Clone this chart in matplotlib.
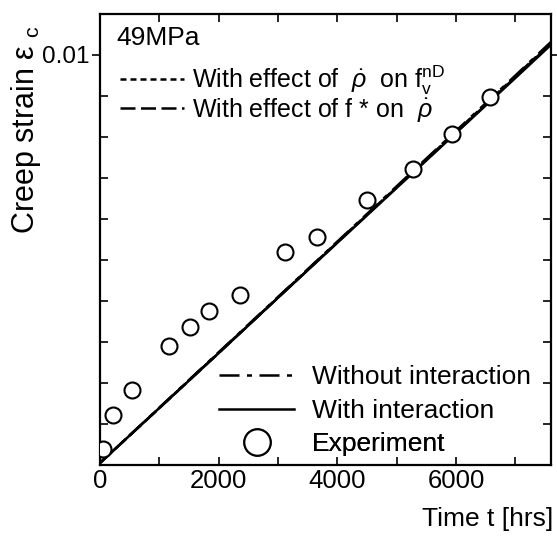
import matplotlib
matplotlib.use("Agg")
import matplotlib.pyplot as plt
from matplotlib.lines import Line2D
from matplotlib.ticker import MultipleLocator, FixedLocator

plt.rcParams["font.family"] = ["Liberation Sans", "DejaVu Sans"]
plt.rcParams["mathtext.fontset"] = "custom"
plt.rcParams["mathtext.rm"] = "Liberation Sans"
plt.rcParams["mathtext.it"] = "Liberation Sans:italic"
plt.rcParams["mathtext.bf"] = "Liberation Sans:bold"

# experiment points (hrs, strain)
exp_time = [50, 220, 540, 1160, 1515, 1835, 2355, 3115, 3655, 4495, 5270, 5925, 6580]
exp_strain = [0.00039, 0.00122, 0.00183, 0.00290, 0.00337, 0.00376, 0.00415,
              0.00520, 0.00556, 0.00646, 0.00722, 0.00807, 0.00898]

# model curves
model_time = [0, 1000, 2000, 3000, 4000, 5000, 6000, 7000, 7600]
with_interaction = [0.00005, 0.00139, 0.00273, 0.00408, 0.00542, 0.00676, 0.00810, 0.00944, 0.01025]
without_interaction = [0.00005, 0.00140, 0.00275, 0.00410, 0.00545, 0.00680, 0.00815, 0.00950, 0.01032]
effect_p_on_fv = [0.00005, 0.00139, 0.00274, 0.00409, 0.00544, 0.00678, 0.00813, 0.00948, 0.01030]
effect_f_on_p = [0.00005, 0.00139, 0.00273, 0.00408, 0.00543, 0.00677, 0.00811, 0.00946, 0.01028]

fs = 19
fig = plt.figure(figsize=(5.57, 5.38), dpi=100)
ax = fig.add_axes([100 / 557, 73 / 538, 451 / 557, 451 / 538])

dotted = (0, (2.4, 1.6))
dashed = (0, (6, 2.2))
dashdot = (0, (8, 3, 2, 3))
lw = 1.8

ax.plot(model_time, effect_p_on_fv, color="black", lw=lw, ls=dotted)
ax.plot(model_time, effect_f_on_p, color="black", lw=lw, ls=dashed)
ax.plot(model_time, without_interaction, color="black", lw=lw, ls=dashdot)
ax.plot(model_time, with_interaction, color="black", lw=lw, ls="-")
ax.plot(exp_time, exp_strain, ls="none", marker="o", ms=11.5, mfc="white",
        mec="black", mew=1.5, zorder=5)

ax.set_xlim(0, 7600)
ax.set_ylim(0, 0.011)

ax.xaxis.set_major_locator(FixedLocator([0, 2000, 4000, 6000]))
ax.xaxis.set_minor_locator(MultipleLocator(1000))
ax.set_xticklabels(["0", "2000", "4000", "6000"])
ax.yaxis.set_major_locator(FixedLocator([0.01]))
ax.yaxis.set_minor_locator(FixedLocator([i * 0.001 for i in range(1, 10)]))
ax.set_yticklabels(["0.01"])

ax.tick_params(which="both", direction="in", top=True, right=True, width=1.2)
ax.tick_params(axis="x", which="both", length=6, pad=3, labelsize=18.5)
ax.tick_params(axis="y", which="minor", length=6)
ax.tick_params(axis="y", which="major", direction="out", length=6, pad=1.5,
               labelsize=17.5)
for s in ax.spines.values():
    s.set_linewidth(1.6)

ax.set_ylabel("Creep strain ε $_{\\mathrm{c}}$", fontsize=22)
ax.yaxis.set_label_coords(-0.127, 0.743)
fig.text(553 / 557, 1 - 519 / 538, "Time t [hrs]", fontsize=fs, ha="right", va="center")

ax.text(0.037, 0.946, "49MPa", transform=ax.transAxes, fontsize=fs, va="center", ha="left")


def add_key(handle, label, x, y, hlen, pad, size=fs):
    leg = ax.legend([handle], [label], loc="center left", bbox_to_anchor=(x, y),
                    frameon=False, fontsize=size, handlelength=hlen, handletextpad=pad,
                    borderpad=0, borderaxespad=0)
    ax.add_artist(leg)


add_key(Line2D([], [], color="black", lw=lw, ls=dotted),
        "With effect of  $\\dot{\\rho}$  on f$_{\\mathrm{v}}^{\\mathrm{nD}}$",
        0.044, 0.853, 2.55, 0.35, size=18)
add_key(Line2D([], [], color="black", lw=lw, ls=dashed),
        "With effect of f * on  $\\dot{\\rho}$",
        0.044, 0.788, 2.55, 0.35, size=18)

add_key(Line2D([], [], color="black", lw=lw, ls=dashdot),
        "Without interaction", 0.264, 0.1955, 2.84, 0.68)
add_key(Line2D([], [], color="black", lw=lw, ls="-"),
        "With interaction", 0.264, 0.1200, 2.84, 0.68)
add_key(Line2D([], [], ls="none", marker="o", ms=19, mfc="white", mec="black", mew=1.5),
        "Experiment", 0.264, 0.047, 2.84, 0.68)

fig.savefig("out.png", dpi=100)
